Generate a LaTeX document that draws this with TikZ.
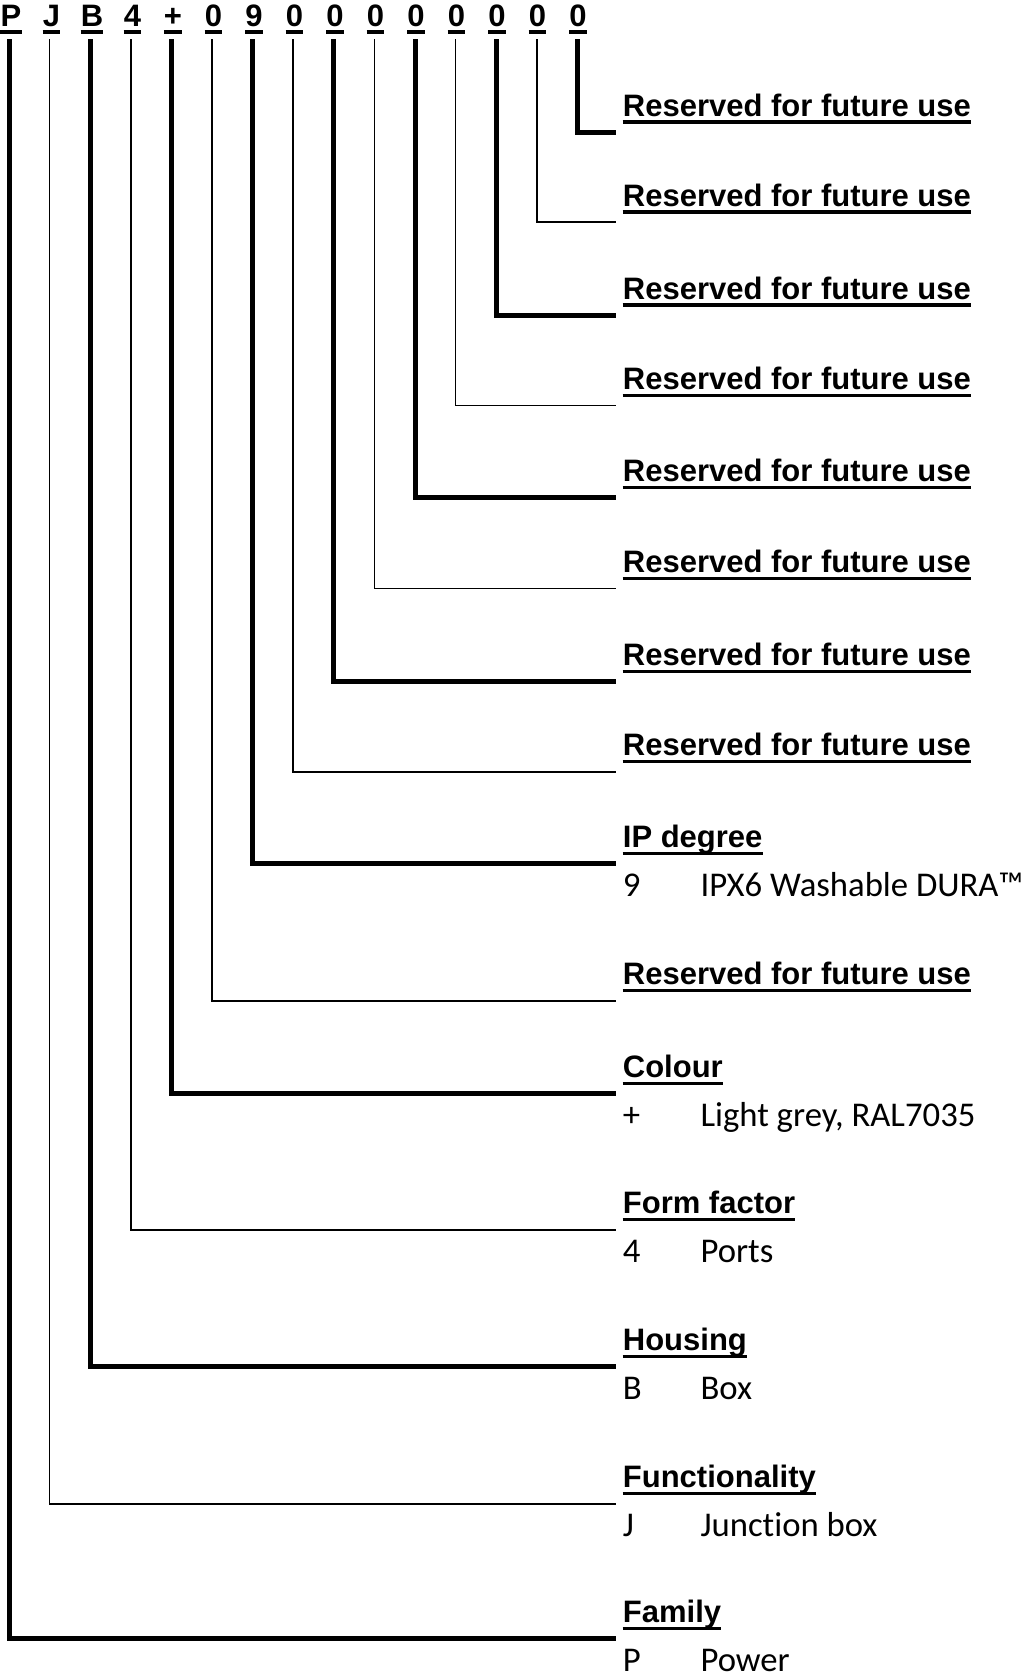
\documentclass[tikz,border=0pt]{standalone}
\usepackage{fontspec}
\setmainfont{Liberation Sans}
\newfontfamily\calib[Ligatures=NoCommon]{Carlito}
\begin{document}
\begin{tikzpicture}[x=1pt,y=-1pt,
  hdr/.style={font=\fontsize{31}{31}\selectfont\bfseries, inner sep=0pt, anchor=base},
  lbl/.style={font=\fontsize{31}{31}\selectfont\bfseries, inner sep=0pt, anchor=base west},
  subtxt/.style={font=\calib\fontsize{34.7}{34.7}\selectfont, inner sep=0pt, anchor=base west},
  ulin/.style={line width=3.4pt},
  thk/.style={line width=5pt},
  thn/.style={line width=1.6pt}]
\useasboundingbox (0,0) rectangle (1021,1677);
% header characters
\foreach \c [count=\i from 0] in {P,J,B,4,+,0,9,0,0,0,0,0,0,0,0} {
  \node[hdr] (h\i) at (11+40.5*\i, 26.5) {\c};
  \draw[ulin] ([yshift=-5.5pt]h\i.base west) -- ([yshift=-5.5pt]h\i.base east);
  \coordinate (t\i) at (9+40.6*\i, 39.5);
}
% reserved rows
\foreach \i/\y/\st in {14/132.3/thk, 13/222.3/thn, 12/315.4/thk, 11/405.4/thn, 10/497.5/thk, 9/588.5/thn, 8/681.7/thk, 7/771.7/thn, 5/1000.7/thn} {
  \node[lbl] (r\i) at (622.7, \y-16) {Reserved for future use};
  \draw[ulin] ([yshift=-5.8pt]r\i.base west) -- ([yshift=-5.8pt]r\i.base east);
  \draw[\st] (t\i) |- ([shift={(-6.7pt,-16pt)}]r\i.base west);
}
% described rows
\foreach \i/\y/\st/\ttl/\code/\desc in {
  6/863.7/thk/{IP degree}/9/{IPX6 Washable DURA™},
  4/1093.9/thk/{Colour}/+/{Light grey, RAL7035},
  3/1229.8/thn/{Form factor}/4/{Ports},
  2/1366.8/thk/{Housing}/B/{Box},
  1/1503.8/thn/{Functionality}/J/{Junction box},
  0/1638.5/thk/{Family}/P/{Power}} {
  \node[lbl] (r\i) at (622.7, \y-16) {\ttl};
  \draw[ulin] ([yshift=-5.8pt]r\i.base west) -- ([yshift=-5.8pt]r\i.base east);
  \draw[\st] (t\i) |- ([shift={(-6.7pt,-16pt)}]r\i.base west);
  \node[subtxt] (c\i) at (622.7, \y+33) {\code};
  \node[subtxt] (d\i) at (700.3, \y+33) {\desc};
}
\end{tikzpicture}
\end{document}
